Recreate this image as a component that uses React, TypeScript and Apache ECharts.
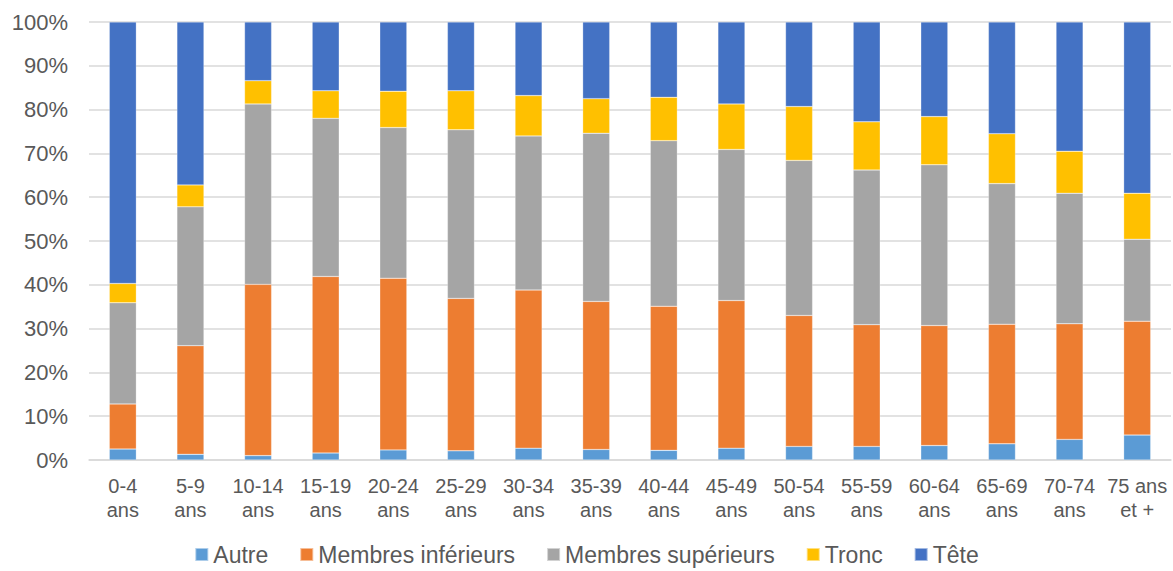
import React, { useEffect, useRef } from "react";
import * as echarts from "echarts";

const categories = [
  "0-4\nans", "5-9\nans", "10-14\nans", "15-19\nans", "20-24\nans", "25-29\nans",
  "30-34\nans", "35-39\nans", "40-44\nans", "45-49\nans", "50-54\nans", "55-59\nans",
  "60-64\nans", "65-69\nans", "70-74\nans", "75 ans\net +",
];
const autre = [2.5, 1.3, 1.0, 1.6, 2.3, 2.1, 2.7, 2.4, 2.2, 2.7, 3.1, 3.1, 3.3, 3.7, 4.7, 5.7];
const membresInferieurs = [10.3, 24.8, 39.1, 40.3, 39.2, 34.8, 36.1, 33.8, 32.9, 33.7, 29.9, 27.8, 27.4, 27.3, 26.4, 26.0];
const membresSuperieurs = [23.1, 31.7, 41.2, 36.1, 34.4, 38.5, 35.2, 38.4, 37.8, 34.5, 35.4, 35.3, 36.7, 32.1, 29.8, 18.7];
const tronc = [4.4, 5.0, 5.3, 6.3, 8.3, 8.9, 9.2, 7.9, 9.9, 10.4, 12.3, 11.0, 11.0, 11.4, 9.6, 10.5];
const tete = [59.7, 37.2, 13.4, 15.7, 15.8, 15.7, 16.8, 17.5, 17.2, 18.7, 19.3, 22.8, 21.6, 25.5, 29.5, 39.1];

const seriesNames = ["Autre", "Membres inférieurs", "Membres supérieurs", "Tronc", "Tête"];
const seriesData = [autre, membresInferieurs, membresSuperieurs, tronc, tete];
const seriesColors = ["#5B9BD5", "#ED7D31", "#A5A5A5", "#FFC000", "#4472C4"];

export default function App() {
  const ref = useRef<HTMLDivElement>(null);
  useEffect(() => {
    if (!ref.current) return;
    const chart = echarts.init(ref.current, null, { renderer: "svg" });
    const font = "'Liberation Sans', Arial, sans-serif";
    chart.setOption({
      animation: false,
      textStyle: { fontFamily: font },
      grid: { left: 89, right: 2, top: 22, bottom: 111, containLabel: false },
      legend: {
        top: 543,
        left: "center",
        padding: 0,
        itemWidth: 13,
        itemHeight: 13,
        itemGap: 31,
        icon: "rect",
        textStyle: { fontSize: 23, color: "#595959", fontFamily: font },
        data: seriesNames,
      },
      xAxis: {
        type: "category",
        data: categories,
        axisTick: { show: false },
        axisLine: { lineStyle: { color: "#D9D9D9", width: 1.5 } },
        axisLabel: {
          color: "#595959",
          fontSize: 20,
          lineHeight: 24,
          margin: 14,
          interval: 0,
          fontFamily: font,
        },
      },
      yAxis: {
        type: "value",
        min: 0,
        max: 100,
        interval: 10,
        axisLine: { show: false },
        axisTick: { show: false },
        splitLine: { lineStyle: { color: "#D9D9D9", width: 1.5 } },
        axisLabel: {
          formatter: "{value}%",
          color: "#595959",
          fontSize: 22,
          margin: 21,
          fontFamily: font,
        },
      },
      series: seriesNames.map((name, i) => ({
        name,
        type: "bar",
        stack: "total",
        barWidth: "40%",
        data: seriesData[i],
        itemStyle: { color: seriesColors[i], borderColor: "rgba(255,255,255,0.5)", borderWidth: 0.5 },
      })),
    });
    return () => chart.dispose();
  }, []);
  return <div ref={ref} style={{ width: 1173, height: 571, position: "absolute", left: 0, top: 0 }} />;
}
